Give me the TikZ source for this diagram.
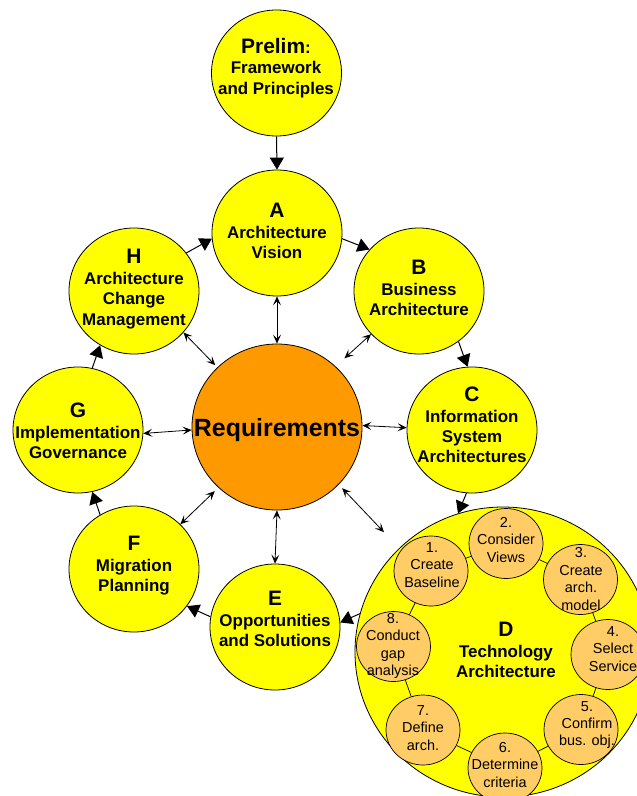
\documentclass[tikz,border=0pt]{standalone}
\usepackage{fontspec}
\setmainfont{Liberation Sans}
\usetikzlibrary{shapes.geometric,arrows.meta}
\definecolor{phaseY}{HTML}{FFFF00}
\definecolor{reqO}{HTML}{FF9900}
\definecolor{subO}{HTML}{FFCC66}
\newcommand\PhL[1]{{\fontsize{21}{20.5}\selectfont #1}}
\tikzset{
  phase/.style={ellipse, draw=black, line width=0.8bp, fill=phaseY, minimum width=130bp, minimum height=126bp, inner sep=0pt},
  reqnode/.style={ellipse, draw=black, line width=0.8bp, fill=reqO, minimum width=170bp, minimum height=166bp, inner sep=0pt},
  bigD/.style={ellipse, draw=black, line width=0.8bp, fill=phaseY, minimum width=296bp, minimum height=290bp, inner sep=0pt},
  subc/.style={ellipse, draw=black, line width=0.7bp, fill=subO, minimum width=74bp, minimum height=70bp, inner sep=0pt},
  ttl/.style={align=center, font=\bfseries\fontsize{17}{20.5}\selectfont, inner sep=0pt},
  subt/.style={align=center, font=\fontsize{14.5}{17.5}\selectfont, inner sep=0pt},
  flow/.style={-{Triangle[length=12bp,width=14bp]}, line width=1bp, black},
  dbl/.style={{Stealth[length=9bp,width=8bp,inset=4bp]}-{Stealth[length=9bp,width=8bp,inset=4bp]}, line width=0.8bp, black},
  ring/.style={line width=0.7bp, black},
}
\begin{document}
\begin{tikzpicture}[x=1bp,y=-1bp]
\useasboundingbox (0,0) rectangle (637,796);
\fill[white] (0,0) rectangle (637,796);
\clip (0,0) rectangle (637,796);

% circles
\node[phase] (P) at (276.5,73) {};
\node[phase] (A) at (277,233) {};
\node[phase] (B) at (419,291) {};
\node[phase] (C) at (472,430) {};
\node[phase] (E) at (275,627) {};
\node[phase] (F) at (134,569) {};
\node[phase] (G) at (78,430) {};
\node[phase] (H) at (134,291) {};
\node[reqnode] (R) at (277,427) {};
\node[bigD] (D) at (503,652) {};

% ring inside D
\node[subc] (s1) at (431,571) {};
\node[subc] (s2) at (506,543.5) {};
\node[subc] (s3) at (580.5,579.5) {};
\node[subc] (s4) at (608,654.5) {};
\node[subc] (s5) at (581,729.5) {};
\node[subc] (s6) at (505,768) {};
\node[subc] (s7) at (423,730) {};
\node[subc] (s8) at (393.5,646.5) {};
\draw[ring] (s1) -- (s2);
\draw[ring] (s2) -- (s3);
\draw[ring] (s3) -- (s4);
\draw[ring] (s4) -- (s5);
\draw[ring] (s5) -- (s6);
\draw[ring] (s6) -- (s7);
\draw[ring] (s7) -- (s8);
\draw[ring] (s8) -- (s1);

% texts
\node[ttl] (Pt) at (276,68) {\PhL{Prelim}:\\Framework\\and Principles};
\node[ttl] (At) at (277,231) {\PhL{A}\\Architecture\\Vision};
\node[ttl] (Bt) at (419,288) {\PhL{B}\\Business\\Architecture};
\node[ttl] (Ct) at (472,425) {\PhL{C}\\Information\\System\\Architectures};
\node[ttl] (Et) at (275,619) {\PhL{E}\\Opportunities\\and Solutions};
\node[ttl] (Ft) at (134,566) {\PhL{F}\\Migration\\Planning};
\node[ttl] (Gt) at (78,431) {\PhL{G}\\Implementation\\Governance};
\node[ttl] (Ht) at (134,289) {\PhL{H}\\Architecture\\Change\\Management};
\node[inner sep=0pt, font=\bfseries\fontsize{25}{28}\selectfont] (Rt) at (277,430) {Requirements};
\node[ttl] (Dt) at (506,650) {\PhL{D}\\Technology\\Architecture};

\node[subt] (t1) at (432,565) {1.\\Create\\Baseline};
\node[subt] (t2) at (506,540) {2.\\Consider\\Views};
\node[subt] (t3) at (581,579) {3.\\Create\\arch.\\model};
\node[subt] (t4) at (613,649) {4.\\Select\\Service};
\node[subt] (t5) at (587,725) {5.\\Confirm\\bus. obj.};
\node[subt] (t6) at (505,765) {6.\\Determine\\criteria};
\node[subt] (t7) at (423,728) {7.\\Define\\arch.};
\node[subt] (t8) at (393,646) {8.\\Conduct\\gap\\analysis};

% cycle arrows
\draw[flow] (P.south) -- (A.north);
\draw[flow] (A.-5) -- (B.140);
\draw[flow] (B.-52) -- (C.94);
\draw[flow] (C.-95) -- (D.108);
\draw[flow] (D.165) -- (E.4);
\draw[flow] (E.171) -- (F.-35);
\draw[flow] (F.122) -- (G.-77);
\draw[flow] (G.77) -- (H.238);
\draw[flow] (H.36) -- (A.185);

% requirements links
\draw[dbl] (R.north) -- (A.south);
\draw[dbl, shorten <=12bp] (R.46) -- (B.222);
\draw[dbl] (R.1) -- (C.178);
\draw[dbl, shorten <=5bp, shorten >=22bp] (R.-43) -- (D.135);
\draw[dbl] (R.south) -- (E.north);
\draw[dbl, shorten <=5bp] (R.226) -- (F.44);
\draw[dbl] (R.182) -- (G.-3);
\draw[dbl, shorten <=3bp] (R.135) -- (H.-40);
\end{tikzpicture}
\end{document}
